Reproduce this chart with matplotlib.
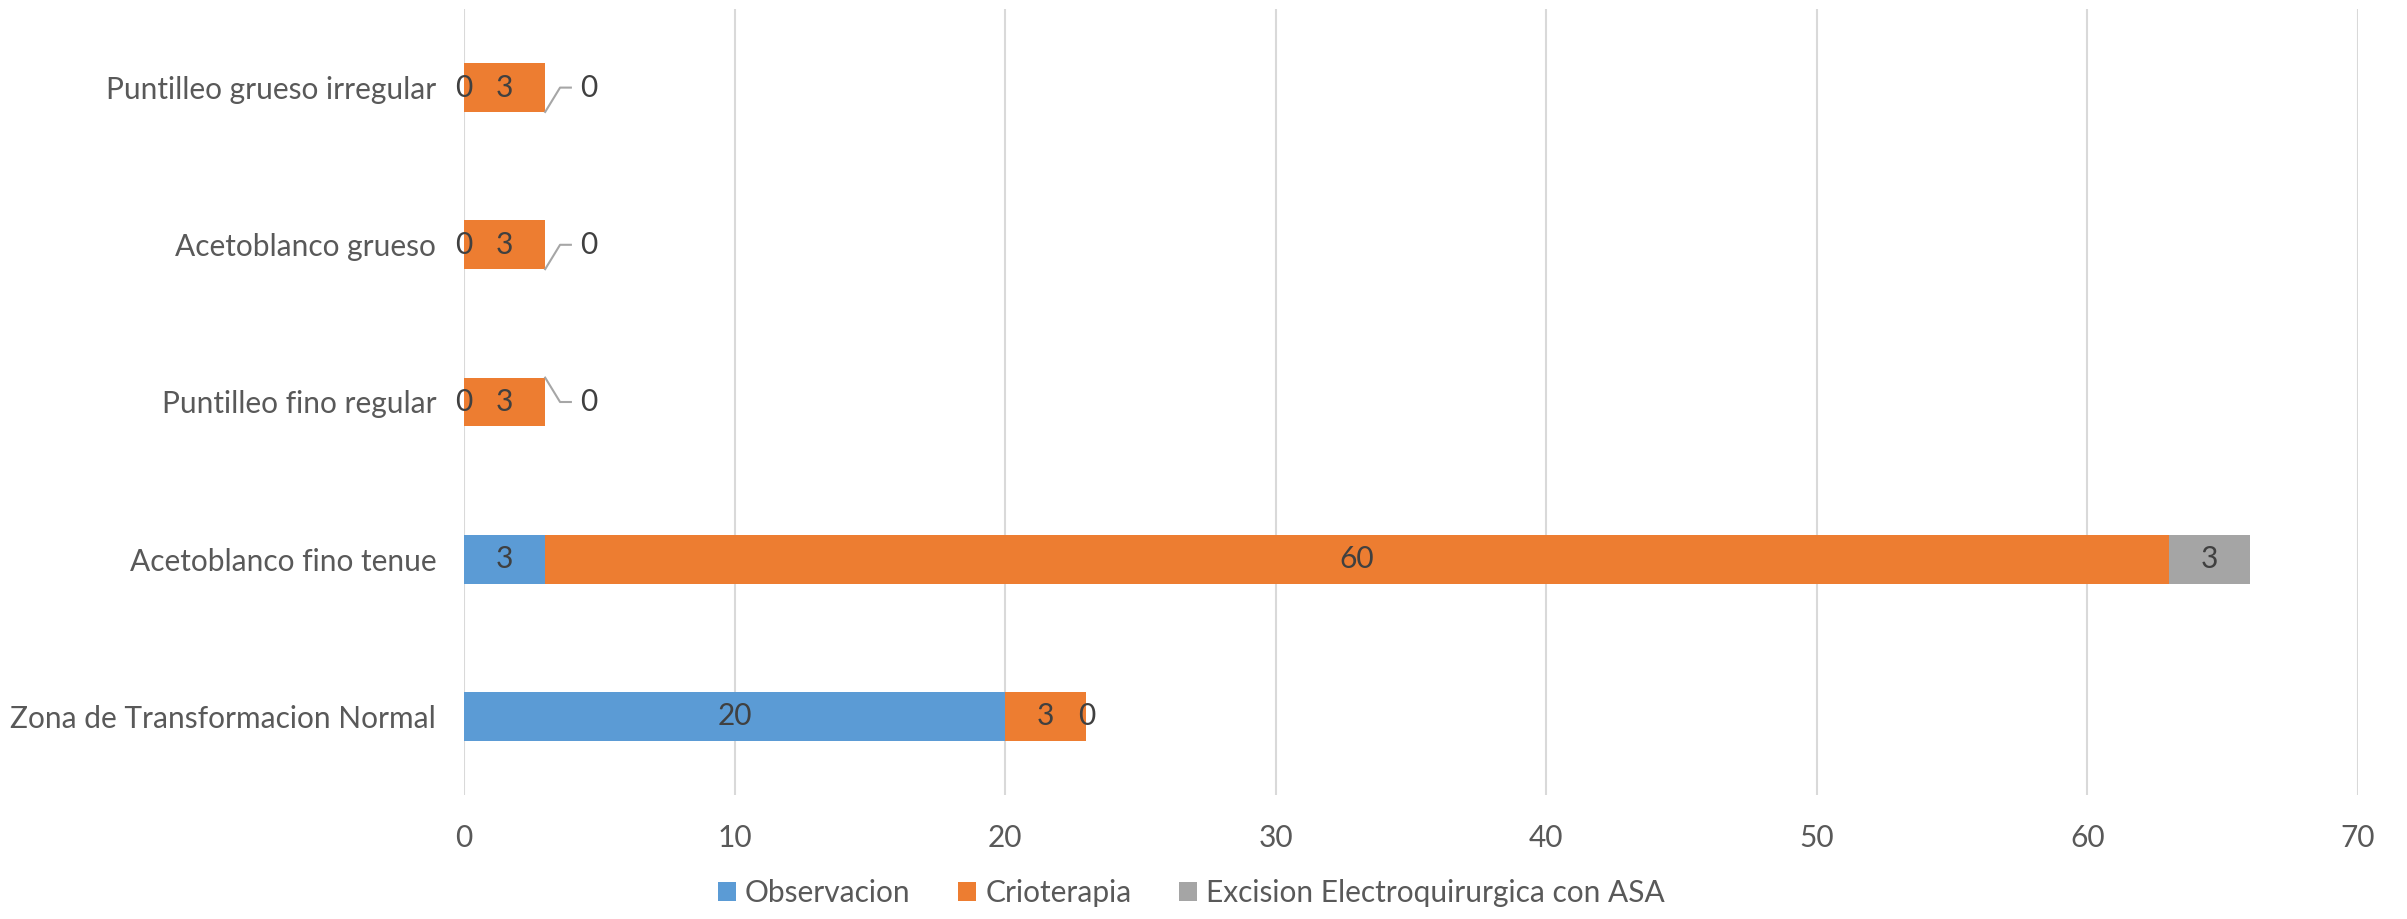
import matplotlib
matplotlib.use("Agg")
import matplotlib.pyplot as plt
import numpy as np

categories = ["Zona de Transformacion Normal", "Acetoblanco fino tenue",
              "Puntilleo fino regular", "Acetoblanco grueso",
              "Puntilleo grueso irregular"]
series_names = ["Observacion", "Crioterapia", "Excision Electroquirurgica con ASA"]
observacion = [20, 3, 0, 0, 0]
crioterapia = [3, 60, 3, 3, 3]
excision = [0, 3, 0, 0, 0]
xticks = [0, 10, 20, 30, 40, 50, 60, 70]

colors = ["#5B9BD5", "#ED7D31", "#A5A5A5"]
font = "Lato"
plt.rcParams['font.family'] = [font, "DejaVu Sans"]
FS = 21.5

fig = plt.figure(figsize=(24.07, 9.19), dpi=100)
ax = fig.add_axes([464/2407, 1-795/919, (2358-464)/2407, (795-9)/919])

y = np.arange(len(categories))
h = 0.31
left = np.zeros(len(categories))
all_series = [observacion, crioterapia, excision]
for s, (vals, c, name) in enumerate(zip(all_series, colors, series_names)):
    vals = np.array(vals, dtype=float)
    ax.barh(y, vals, left=left, height=h, color=c, label=name, zorder=3)
    for i, v in enumerate(vals):
        cx = left[i] + v / 2
        if s == 2 and v == 0 and i >= 2:
            tot = left[i]
            if i == 2:
                y0 = i + h / 2
            else:
                y0 = i - h / 2
            ax.plot([tot, tot + 0.55, tot + 0.95], [y0, i, i],
                    color="#A6A6A6", lw=1.5, zorder=4, clip_on=False)
            ax.text(tot + 1.6, i, f"{int(v)}", ha="center", va="center",
                    fontsize=FS, color="#404040", zorder=5)
        else:
            ax.text(cx, i, f"{int(v)}", ha="center", va="center",
                    fontsize=FS, color="#404040", zorder=5)
    left = left + vals

ax.set_xlim(0, 70)
ax.set_ylim(-0.5, 4.5)
ax.set_xticks(xticks)
ax.set_xticklabels([str(t) for t in xticks], fontsize=FS, color="#595959")
ax.set_yticks(y)
ax.set_yticklabels(categories, fontsize=FS, color="#595959")
ax.tick_params(axis="both", length=0)
ax.tick_params(axis="x", pad=21)
ax.tick_params(axis="y", pad=20)
ax.grid(axis="x", color="#D9D9D9", lw=1.5, zorder=0)
for sp in ax.spines.values():
    sp.set_visible(False)

leg = fig.legend(loc="lower center", bbox_to_anchor=(0.495, -0.016), ncol=3,
                 frameon=False, fontsize=FS, handlelength=0.6, handleheight=0.6,
                 columnspacing=1.6, handletextpad=0.3)
for t in leg.get_texts():
    t.set_color("#595959")

fig.savefig("out.png", dpi=100)
